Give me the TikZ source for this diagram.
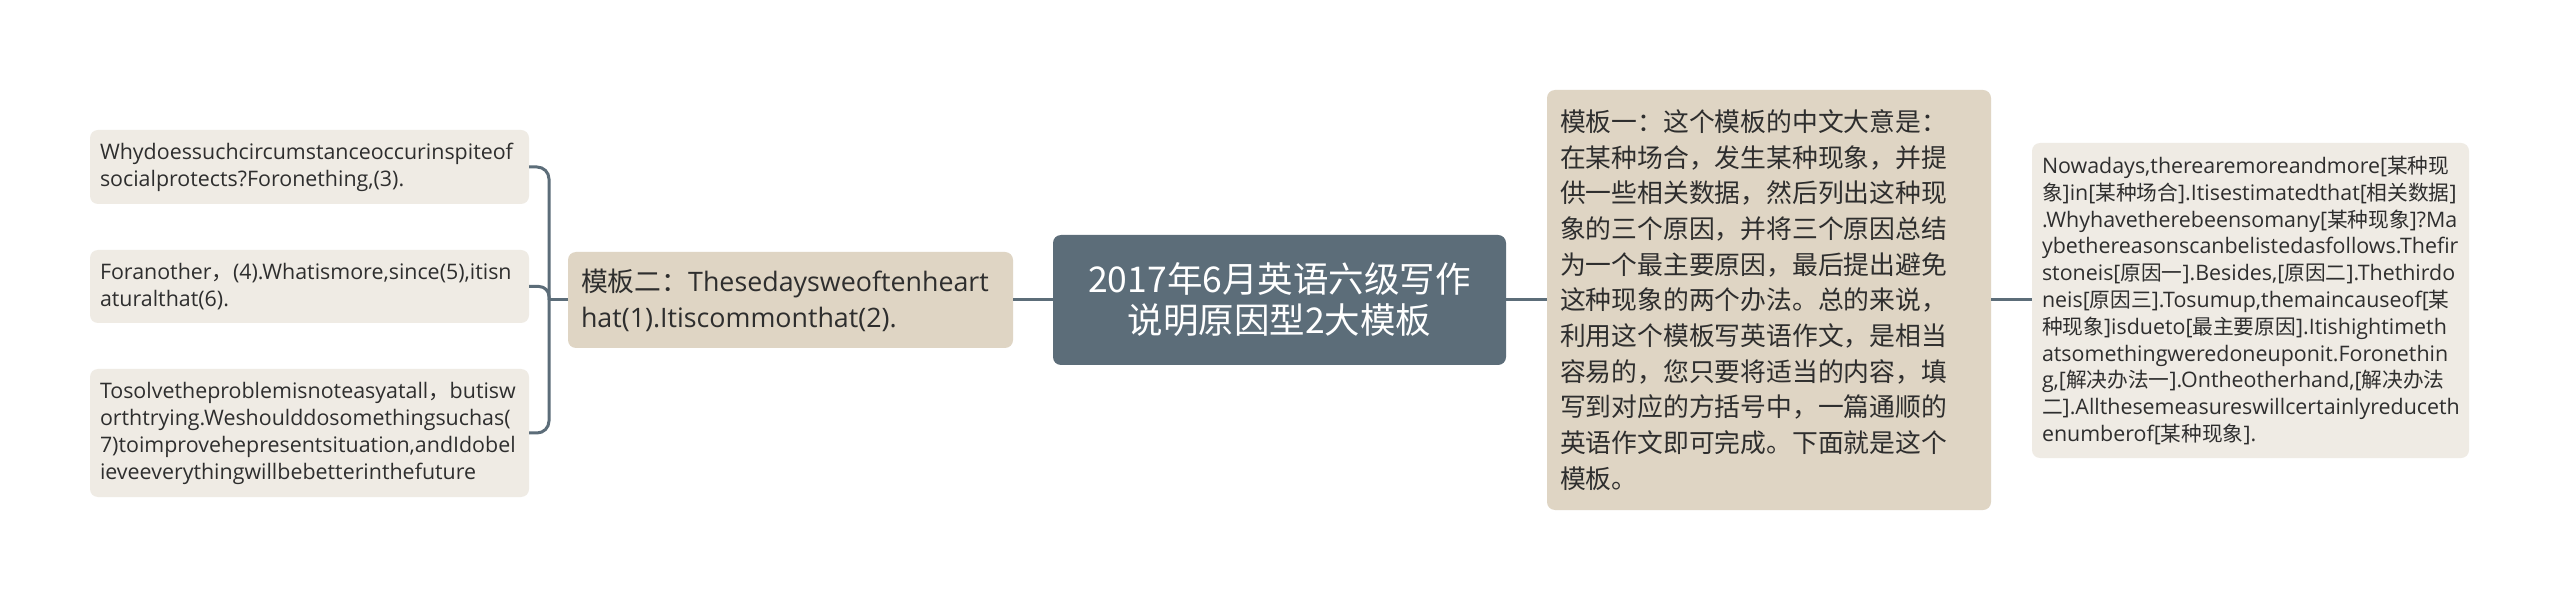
\documentclass[tikz,border=0pt]{standalone}
\usepackage{fontspec}
\setmainfont{Open Sans}
\newfontfamily\cjk{Noto Sans CJK SC}
\newcommand\zh[1]{{\cjk #1}}
\newcommand\zr[1]{{\cjk\fontsize{20.7pt}{26.8pt}\selectfont #1}}
\definecolor{leaffill}{HTML}{EFEBE4}
\definecolor{tanfill}{HTML}{DFD5C4}
\definecolor{rootfill}{HTML}{5C6D79}
\definecolor{linec}{HTML}{5C6D79}
\definecolor{txt}{HTML}{2E2E2E}
\begin{document}
\begin{tikzpicture}[x=1pt,y=-1pt,
  box/.style={rounded corners=8pt, inner ysep=2pt, align=left, text=txt, anchor=center},
  leaf/.style={box, fill=leaffill, inner xsep=10pt, text width=419pt, minimum width=439pt,
    font=\fontsize{21.4pt}{27pt}\selectfont},
  tanbox/.style={box, fill=tanfill, inner xsep=13pt, text width=418pt, minimum width=444pt},
  rootbox/.style={box, fill=rootfill, text=white, align=center, inner xsep=10pt, text width=433pt,
    minimum width=453pt, minimum height=130pt, font=\cjk\fontsize{35.5pt}{41pt}\selectfont},
  rbox/.style={box, fill=leaffill, inner xsep=10pt, text width=417pt, minimum width=437pt,
    font=\fontsize{21.4pt}{26.8pt}\selectfont},
  conn/.style={draw=linec, line width=3pt},
]
\useasboundingbox[fill=white] (0,0) rectangle (2560,601);

\node[rootbox] (root) at (1279.5,300) {2017年6月英语六级写作\\说明原因型2大模板};

\node[tanbox, minimum height=96pt, text width=419pt, minimum width=445pt,
  font=\fontsize{26.8pt}{36pt}\selectfont] (m2) at (790.5,300)
  {\zh{模板二：}Thesedaysweoftenheart\\hat(1).Itiscommonthat(2).};

\node[leaf, minimum height=74pt] (l1) at (309.5,167)
  {Whydoessuchcircumstanceoccurinspiteof\\socialprotects?Foronething,(3).};
\node[leaf, minimum height=73pt] (l2) at (309.5,286.5)
  {Foranother\zh{，}(4).Whatismore,since(5),itisn\\aturalthat(6).};
\node[leaf, minimum height=128pt] (l3) at (309.5,433)
  {Tosolvetheproblemisnoteasyatall\zh{，}butisw\\orthtrying.Weshoulddosomethingsuchas(\\7)toimprovehepresentsituation,andIdobel\\ieveeverythingwillbebetterinthefuture};

\node[tanbox, minimum height=420pt, font=\cjk\fontsize{25.8pt}{35.7pt}\selectfont] (m1) at (1769,300)
  {模板一：这个模板的中文大意是：\\在某种场合，发生某种现象，并提\\供一些相关数据，然后列出这种现\\象的三个原因，并将三个原因总结\\为一个最主要原因，最后提出避免\\这种现象的两个办法。总的来说，\\利用这个模板写英语作文，是相当\\容易的，您只要将适当的内容，填\\写到对应的方括号中，一篇通顺的\\英语作文即可完成。下面就是这个\\模板。};

\node[rbox, minimum height=315pt] (r1) at (2250.5,300.5)
  {Nowadays,therearemoreandmore[\zr{某种现}\\\zr{象}]in[\zr{某种场合}].Itisestimatedthat[\zr{相关数据}]\\.Whyhavetherebeensomany[\zr{某种现象}]?Ma\\ybethereasonscanbelistedasfollows.Thefir\\stoneis[\zr{原因一}].Besides,[\zr{原因二}].Thethirdo\\neis[\zr{原因三}].Tosumup,themaincauseof[\zr{某}\\\zr{种现象}]isdueto[\zr{最主要原因}].Itishightimeth\\atsomethingweredoneuponit.Foronethin\\g,[\zr{解决办法一}].Ontheotherhand,[\zr{解决办法}\\\zr{二}].Allthesemeasureswillcertainlyreduceth\\enumberof[\zr{某种现象}].};

\coordinate (jn) at (549,300);
\draw[conn] (root.west) -- (m2.east);
\draw[conn] (root.east) -- (m1.west);
\draw[conn] (m1.east) -- (r1.west |- m1.east);
\draw[conn] (m2.west) -- (jn);
\draw[conn, rounded corners=12pt] (jn) |- (l1.east);
\draw[conn, rounded corners=10pt] (jn) |- (l2.east);
\draw[conn, rounded corners=12pt] (jn) |- (l3.east);
\end{tikzpicture}
\end{document}
